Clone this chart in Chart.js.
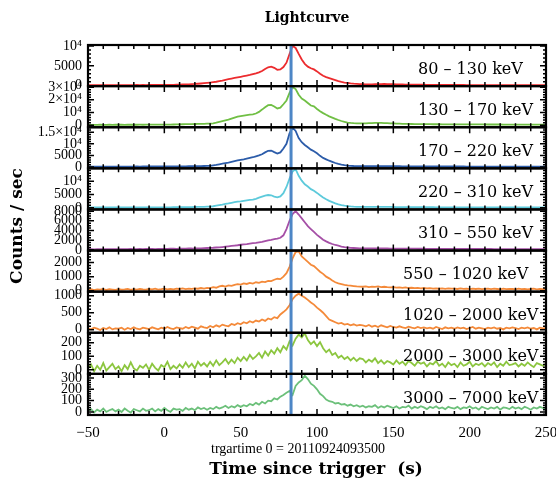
<!DOCTYPE html>
<html><head><meta charset="utf-8">
<script src="https://cdn.jsdelivr.net/npm/chart.js@4.4.1/dist/chart.umd.min.js"></script>
<style>html,body{margin:0;padding:0;background:#fff;}canvas{display:block;}</style>
</head><body>
<canvas id="c" width="556" height="482"></canvas>
<script>
// ---- data ----
const times = [-50,-48,-46,-44,-42,-40,-38,-36,-34,-32,-30,-28,-26,-24,-22,-20,-18,-16,-14,-12,
-10,-8,-6,-4,-2,0,2,4,6,8,10,12,14,16,18,20,22,24,26,28,30,32,34,36,38,40,42,44,46,48,
50,52,54,56,58,60,62,64,66,68,70,72,74,76,78,80,82,84,86,88,90,92,94,96,98,100,102,104,106,108,
110,112,114,116,118,120,122,124,126,128,130,132,134,136,138,140,142,144,146,148,
150,152,154,156,158,160,162,164,166,168,170,172,174,176,178,180,182,184,186,188,
190,192,194,196,198,200,202,204,206,208,210,212,214,216,218,220,222,224,226,228,
230,232,234,236,238,240,242,244,246,248,250];

const bandLabels = ["80 \u2013 130 keV","130 \u2013 170 keV","170 \u2013 220 keV","220 \u2013 310 keV","310 \u2013 550 keV",
  "550 \u2013 1020 keV","1020 \u2013 2000 keV","2000 \u2013 3000 keV","3000 \u2013 7000 keV"];

const counts80_130 = [
150,140,160,150,140,160,150,170,150,160,
160,150,170,160,170,160,180,170,180,170,
180,190,180,200,190,200,210,220,230,250,
280,300,330,360,400,440,500,560,630,710,
800,900,1000,1150,1300,1500,1650,1800,1950,2100,
2250,2400,2550,2700,2900,3100,3350,3700,4200,4650,
4800,4500,4000,4100,4700,5800,8000,10000,9500,8000,
6600,5500,4800,4400,4100,3600,3000,2500,2150,1900,
1650,1400,1150,950,800,700,600,520,460,410,
380,360,350,360,380,400,420,430,420,400,
380,350,330,310,290,280,270,260,250,240,
240,230,230,220,220,210,210,200,200,190,
190,180,180,180,170,170,170,160,160,160,
160,150,150,150,150,140,140,140,140,130,
130,130,130,130,120,120,120,120,120,120,
120];

const counts130_170 = [
300,320,300,310,330,300,320,340,310,330,
330,340,320,350,340,360,350,370,360,380,
380,400,390,420,430,450,480,500,550,600,
700,750,800,850,900,950,1000,1050,1100,1200,
1300,1500,2000,2600,3200,3800,4400,5200,6000,6800,
7200,7600,8000,8300,8600,9200,10500,12300,14200,15800,
16000,14800,13200,13800,16500,19500,25500,30000,28500,24000,
21000,19500,17500,15500,14800,12800,11000,9500,8200,7000,
6000,5000,4100,3300,2700,2100,1800,1600,1500,1450,
1450,1500,1600,1700,1800,1850,1800,1700,1600,1500,
1400,1300,1200,1100,1050,1000,950,900,880,850,
830,800,780,760,750,740,720,700,690,680,
670,660,650,640,630,620,610,600,590,580,
570,560,560,550,540,530,520,520,510,500,
500,490,480,480,470,460,460,450,450,440,
440];

const counts170_220 = [
150,160,150,170,160,150,170,160,170,160,
170,160,180,170,180,170,190,180,190,200,
190,200,210,200,220,230,220,240,250,260,
270,280,290,300,320,330,350,370,400,430,
500,700,900,1150,1400,1700,1900,2200,2500,2800,
3050,3300,3600,3900,4200,4600,5000,5500,6300,7000,
7100,6400,5800,6300,8000,10000,14500,17000,15600,12500,
10700,9500,8500,7500,6800,5900,4800,3900,3300,2700,
2200,1700,1300,1000,750,600,500,420,370,340,
330,330,340,360,380,390,380,370,350,340,
320,310,300,290,280,270,260,250,250,240,
240,230,230,220,220,210,210,210,200,200,
200,190,190,190,180,180,180,180,170,170,
170,170,160,160,160,160,150,150,150,150,
150,150,140,140,140,140,140,140,130,130,
130];

const counts220_310 = [
120,130,120,140,130,120,140,130,140,130,
140,130,150,140,150,140,160,150,160,170,
160,170,180,170,190,200,190,210,220,230,
240,250,260,280,300,320,340,360,390,420,
450,600,800,1000,1200,1450,1650,1900,2100,2300,
2400,2600,2800,2950,3100,3400,3800,4200,4600,4800,
4700,4200,3900,4300,5500,7800,11000,13600,14500,12000,
10200,8800,8000,7000,6400,5600,4700,3900,3200,2600,
2150,1700,1300,1000,800,650,530,450,400,370,
350,340,340,350,360,370,360,350,340,330,
310,300,290,280,270,260,250,250,240,240,
230,230,220,220,210,210,210,200,200,200,
190,190,190,180,180,180,170,170,170,170,
160,160,160,160,150,150,150,150,150,140,
140,140,140,140,130,130,130,130,130,130,
130];

const counts310_550 = [
120,150,110,140,130,160,120,150,140,130,
150,140,160,130,170,150,160,180,150,170,
170,190,160,200,180,210,200,220,230,210,
240,230,260,280,270,300,320,310,350,380,
400,430,480,520,580,650,720,800,870,950,
1050,1120,1200,1300,1380,1450,1550,1650,1800,1950,
2050,2200,2300,2500,3000,4300,6000,7400,8000,7300,
6500,5700,4900,4300,3700,3100,2600,2100,1750,1450,
1200,1000,850,680,550,480,420,380,350,320,
310,300,290,290,280,280,280,270,270,260,
260,250,250,240,240,230,230,230,220,220,
220,210,210,210,200,200,200,200,190,190,
190,190,180,180,180,180,180,170,170,170,
170,170,170,160,160,160,160,160,160,150,
150,150,150,150,150,150,140,140,140,140,
140];

const counts550_1020 = [
60,110,40,90,70,120,50,100,80,60,
110,70,90,130,60,100,80,120,90,70,
120,90,140,80,110,150,100,130,90,140,
120,160,110,150,130,170,140,190,150,200,
180,250,210,300,350,290,380,340,420,460,
430,520,480,560,510,600,560,640,610,700,
680,780,850,820,1000,1250,1700,2300,2750,2800,
2450,2250,2050,1850,1750,1550,1350,1200,1000,880,
720,600,520,470,420,380,360,330,300,290,
280,300,260,290,270,300,260,280,250,240,
260,220,240,200,230,190,210,180,200,170,
190,160,180,150,170,140,160,130,170,140,
150,120,160,130,140,110,150,120,140,110,
130,150,110,140,120,100,150,110,130,120,
100,140,110,130,90,120,140,100,120,110,
120];

const counts1020_2000 = [
40,10,60,30,-10,50,20,70,10,40,
30,60,0,50,20,70,30,10,60,40,
20,70,40,10,60,30,80,40,20,70,
50,30,80,40,90,60,30,100,70,50,
110,70,130,90,150,120,100,170,140,190,
160,220,190,250,210,270,240,300,260,330,
300,370,340,450,520,600,720,900,1000,1060,
1000,950,880,800,740,650,580,500,400,300,
260,220,180,200,150,170,130,160,120,140,
130,100,140,90,120,80,130,100,70,110,
80,60,100,70,50,90,60,40,80,50,
70,40,60,30,80,50,20,70,40,60,
30,70,40,60,20,50,80,30,60,40,
20,60,40,70,30,50,10,60,40,70,
50,20,60,40,70,30,50,10,60,40,
50];

const counts2000_3000 = [
10,40,-10,30,0,50,-5,20,45,5,
25,-10,35,5,55,10,-5,30,15,40,
0,45,15,-5,35,20,60,5,30,10,
40,15,55,20,45,10,60,30,50,25,
60,30,70,35,55,80,45,75,50,90,
65,95,70,110,80,100,125,90,135,105,
145,120,160,130,175,150,210,180,230,260,
240,270,220,190,210,175,205,160,130,150,
110,125,90,105,80,95,70,90,65,85,
80,55,75,60,85,50,70,45,65,55,
40,70,45,60,35,65,50,30,60,45,
55,25,50,40,65,30,45,20,55,35,
45,20,55,30,40,60,25,45,35,50,
25,50,35,55,20,45,30,60,35,40,
50,25,45,30,55,35,20,50,40,30,
45];

const counts3000_7000 = [
10,25,-5,20,5,30,0,15,25,5,
20,0,30,10,-5,25,15,5,30,10,
15,30,5,25,10,35,15,0,30,20,
25,10,35,20,30,15,40,25,35,20,
35,25,45,30,40,55,35,50,40,60,
45,60,50,70,60,80,65,90,75,100,
95,120,110,135,150,170,185,150,230,260,
280,320,290,250,230,200,160,140,110,95,
90,75,80,65,70,55,65,50,60,45,
55,40,50,45,60,35,50,40,55,45,
35,50,30,45,40,55,30,45,35,50,
40,25,45,35,50,30,40,25,45,35,
30,45,25,40,35,50,30,40,20,45,
35,25,40,30,45,20,40,35,25,45,
30,40,25,45,35,20,40,30,45,35,
30];

const xTickValues = [-50, 0, 50, 100, 150, 200, 250];
const yTicks80_130 = [0, 5000, 10000];
const yTicks130_170 = [0, 10000, 20000, 30000];
const yTicks170_220 = [0, 5000, 10000, 15000];
const yTicks220_310 = [0, 5000, 10000];
const yTicks310_550 = [0, 2000, 4000, 6000, 8000];
const yTicks550_1020 = [0, 1000, 2000];
const yTicks1020_2000 = [0, 500, 1000];
const yTicks2000_3000 = [0, 100, 200];
const yTicks3000_7000 = [0, 100, 200, 300];
const markerTime = 83;   // vertical marker line (s)
const titleText = "Lightcurve";
const yTitleText = "Counts / sec";
const xTitleText = "Time since trigger  (s)";
const xSubText = "trgartime 0 = 20110924093500";

// ---- styling / layout (not data) ----
const panels = [
  {data: counts80_130,    ticks: yTicks80_130,    min: -100, max: 10250, minor: 1000, color: '#ec2b2e', lx: 418},
  {data: counts130_170,   ticks: yTicks130_170,   min: -1600, max: 30800, minor: 2000, color: '#70bf44', lx: 418},
  {data: counts170_220,   ticks: yTicks170_220,   min: -600, max: 17200, minor: 1000, color: '#2c5ca9', lx: 418},
  {data: counts220_310,   ticks: yTicks220_310,   min: -600, max: 14800, minor: 1000, color: '#5dcadb', lx: 418},
  {data: counts310_550,   ticks: yTicks310_550,   min: -150, max: 8350, minor: 500, color: '#a54fa6', lx: 418},
  {data: counts550_1020,  ticks: yTicks550_1020,  min: -70, max: 2860, minor: 200, color: '#f48a3a', lx: 403},
  {data: counts1020_2000, ticks: yTicks1020_2000, min: -90, max: 1120, minor: 100, color: '#f48a3a', lx: 403},
  {data: counts2000_3000, ticks: yTicks2000_3000, min: -30, max: 274, minor: 20, color: '#8cc63f', lx: 403},
  {data: counts3000_7000, ticks: yTicks3000_7000, min: -27, max: 336, minor: 20, color: '#6cc07a', lx: 403}
];

function fmtY(v) {
  if (v === 10000) return '10\u2074';
  if (v === 20000) return '2\u00d710\u2074';
  if (v === 30000) return '3\u00d710\u2074';
  if (v === 15000) return '1.5\u00d710\u2074';
  return String(v);
}

const TICKFONT = 'Liberation Serif';
const scales = {
  x: {
    type: 'linear', position: 'bottom', min: -50, max: 250,
    afterBuildTicks: s => { s.ticks = xTickValues.map(v => ({value: v})); },
    afterFit: s => { s.height = 67; s.paddingLeft = 0; s.paddingRight = 0; },
    grid: {display: false, drawTicks: false}, border: {display: false},
    ticks: {autoSkip: false, maxRotation: 0, padding: 9, color: '#000',
      font: {family: TICKFONT, size: 15},
      callback: v => String(v).replace('-', '\u2212')}
  }
};
const datasets = [];
// stacked scales are laid out bottom-up in definition order, so define the lowest panel first
for (let i = panels.length - 1; i >= 0; i--) {
  const p = panels[i];
  const id = 'y' + i;
  scales[id] = {
    type: 'linear', position: 'left', stack: 'lc', stackWeight: 1, offset: false,
    min: p.min, max: p.max,
    afterBuildTicks: s => { s.ticks = p.ticks.map(v => ({value: v})); },
    afterFit: s => { s.width = 88; },
    grid: {display: false, drawTicks: false}, border: {display: false},
    ticks: {autoSkip: false, padding: 6, color: '#000', font: {family: TICKFONT, size: 14},
      callback: v => fmtY(v)}
  };
}
panels.forEach((p, i) => {
  datasets.push({
    label: bandLabels[i], yAxisID: 'y' + i, xAxisID: 'x',
    data: times.map((t, j) => ({x: t, y: p.data[j]})),
    borderColor: p.color, borderWidth: 1.8, pointRadius: 0, tension: 0, fill: false
  });
});

const decor = {
  id: 'decor',
  afterDatasetsDraw(chart) {
    const ctx = chart.ctx, xs = chart.scales.x, ca = chart.chartArea;
    ctx.save();
    const mx = xs.getPixelForValue(markerTime);
    ctx.strokeStyle = '#4d86c6'; ctx.lineWidth = 3;
    ctx.beginPath(); ctx.moveTo(mx, ca.top); ctx.lineTo(mx, ca.bottom); ctx.stroke();
    panels.forEach((p, i) => {
      const ys = chart.scales['y' + i];
      const top = ys.top, bot = ys.bottom;
      ctx.strokeStyle = '#000'; ctx.lineWidth = 1.5;
      ctx.beginPath();
      for (let v = -50; v <= 250; v += 10) {
        const px = xs.getPixelForValue(v);
        const len = (v % 50 === 0) ? 6 : 4;
        ctx.moveTo(px, top); ctx.lineTo(px, top + len);
        ctx.moveTo(px, bot); ctx.lineTo(px, bot - len);
      }
      const start = Math.ceil(p.min / p.minor) * p.minor;
      for (let v = start; v <= p.max; v += p.minor) {
        const py = ys.getPixelForValue(v);
        const len = p.ticks.includes(v) ? 6 : 3;
        ctx.moveTo(ca.left, py); ctx.lineTo(ca.left + len, py);
        ctx.moveTo(ca.right, py); ctx.lineTo(ca.right - len, py);
      }
      ctx.stroke();
      ctx.lineWidth = 2.2;
      ctx.strokeRect(ca.left, top, ca.right - ca.left, bot - top);
      ctx.fillStyle = '#000';
      ctx.font = '16px "DejaVu Serif"';
      ctx.textAlign = 'left'; ctx.textBaseline = 'middle';
      ctx.fillText(bandLabels[i], p.lx, (top + bot) / 2 + 4);
    });
    ctx.restore();
  },
  afterDraw(chart) {
    const ctx = chart.ctx;
    ctx.save();
    ctx.fillStyle = '#000';
    ctx.textAlign = 'center'; ctx.textBaseline = 'middle';
    ctx.font = 'bold 14px "DejaVu Serif"';
    ctx.fillText(titleText, 307, 18);
    ctx.font = 'bold 17px "DejaVu Serif"';
    ctx.fillText(xTitleText, 316, 470);
    ctx.font = '14px "Liberation Serif"';
    ctx.fillText(xSubText, 298, 449);
    ctx.translate(18, 226); ctx.rotate(-Math.PI / 2);
    ctx.font = 'bold 17px "DejaVu Serif"';
    ctx.fillText(yTitleText, 0, 0);
    ctx.restore();
  }
};

new Chart(document.getElementById('c'), {
  type: 'line',
  data: {datasets},
  options: {
    responsive: false, animation: false, devicePixelRatio: 1,
    layout: {padding: {left: 0, right: 10, top: 45, bottom: 0}},
    plugins: {legend: {display: false}, tooltip: {enabled: false}, title: {display: false}},
    scales
  },
  plugins: [decor]
});
</script>
</body></html>
